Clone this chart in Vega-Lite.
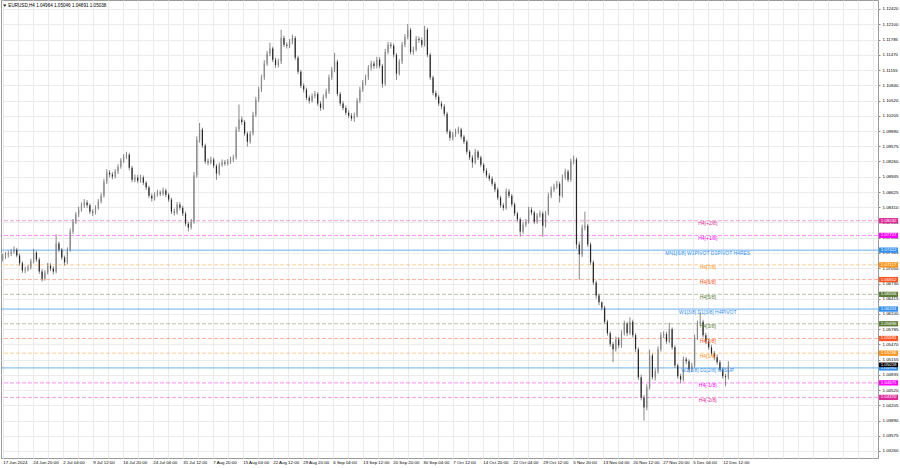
{
  "$schema": "https://vega.github.io/schema/vega-lite/v6.json",
  "width": 877,
  "height": 458,
  "autosize": {"type": "none"},
  "padding": {"left": 1, "top": 0, "right": 22, "bottom": 10},
  "background": "white",
  "title": {"text": "▼  EURUSD,H4  1.04964 1.05046 1.04891 1.05038", "anchor": "start", "offset": -8, "fontSize": 4.6, "fontWeight": "normal", "font": "Liberation Sans", "color": "#000", "dx": 2},
  "config": {
    "view": {"stroke": "#9a9a9a", "strokeWidth": 1},
    "font": "Liberation Sans"
  },
  "datasets": {
    "candles": [
      {"t":3,"o":1.0725,"h":1.0735,"l":1.0719,"c":1.0729},
      {"t":6,"o":1.0729,"h":1.0738,"l":1.0724,"c":1.0733},
      {"t":9,"o":1.0733,"h":1.0741,"l":1.0727,"c":1.0735},
      {"t":12,"o":1.0735,"h":1.0744,"l":1.0730,"c":1.0739},
      {"t":15,"o":1.0739,"h":1.0750,"l":1.0735,"c":1.0743},
      {"t":18,"o":1.0743,"h":1.0747,"l":1.0727,"c":1.0731},
      {"t":21,"o":1.0731,"h":1.0735,"l":1.0710,"c":1.0715},
      {"t":24,"o":1.0715,"h":1.0719,"l":1.0695,"c":1.0700},
      {"t":27,"o":1.0700,"h":1.0708,"l":1.0694,"c":1.0702},
      {"t":30,"o":1.0702,"h":1.0712,"l":1.0698,"c":1.0706},
      {"t":33,"o":1.0706,"h":1.0724,"l":1.0702,"c":1.0719},
      {"t":36,"o":1.0719,"h":1.0745,"l":1.0715,"c":1.0737},
      {"t":39,"o":1.0737,"h":1.0741,"l":1.0718,"c":1.0723},
      {"t":42,"o":1.0723,"h":1.0727,"l":1.0693,"c":1.0698},
      {"t":45,"o":1.0698,"h":1.0703,"l":1.0677,"c":1.0683},
      {"t":48,"o":1.0683,"h":1.0701,"l":1.0679,"c":1.0696},
      {"t":51,"o":1.0696,"h":1.0716,"l":1.0692,"c":1.0710},
      {"t":54,"o":1.0710,"h":1.0715,"l":1.0699,"c":1.0704},
      {"t":57,"o":1.0704,"h":1.0709,"l":1.0692,"c":1.0698},
      {"t":60,"o":1.0698,"h":1.0775,"l":1.0694,"c":1.0756},
      {"t":63,"o":1.0756,"h":1.0760,"l":1.0738,"c":1.0743},
      {"t":66,"o":1.0743,"h":1.0747,"l":1.0722,"c":1.0727},
      {"t":69,"o":1.0727,"h":1.0731,"l":1.0710,"c":1.0717},
      {"t":72,"o":1.0717,"h":1.0748,"l":1.0713,"c":1.0743},
      {"t":75,"o":1.0743,"h":1.0787,"l":1.0739,"c":1.0781},
      {"t":78,"o":1.0781,"h":1.0807,"l":1.0776,"c":1.0801},
      {"t":81,"o":1.0801,"h":1.0821,"l":1.0796,"c":1.0816},
      {"t":84,"o":1.0816,"h":1.0832,"l":1.0811,"c":1.0826},
      {"t":87,"o":1.0826,"h":1.0841,"l":1.0822,"c":1.0835},
      {"t":90,"o":1.0835,"h":1.0848,"l":1.0830,"c":1.0841},
      {"t":93,"o":1.0841,"h":1.0846,"l":1.0830,"c":1.0835},
      {"t":96,"o":1.0835,"h":1.0839,"l":1.0817,"c":1.0822},
      {"t":99,"o":1.0822,"h":1.0827,"l":1.0813,"c":1.0820},
      {"t":102,"o":1.0820,"h":1.0835,"l":1.0816,"c":1.0830},
      {"t":105,"o":1.0830,"h":1.0848,"l":1.0826,"c":1.0843},
      {"t":108,"o":1.0843,"h":1.0861,"l":1.0839,"c":1.0855},
      {"t":111,"o":1.0855,"h":1.0890,"l":1.0851,"c":1.0884},
      {"t":114,"o":1.0884,"h":1.0910,"l":1.0879,"c":1.0903},
      {"t":117,"o":1.0903,"h":1.0908,"l":1.0893,"c":1.0899},
      {"t":120,"o":1.0899,"h":1.0904,"l":1.0889,"c":1.0895},
      {"t":123,"o":1.0895,"h":1.0910,"l":1.0891,"c":1.0905},
      {"t":126,"o":1.0905,"h":1.0920,"l":1.0900,"c":1.0915},
      {"t":129,"o":1.0915,"h":1.0933,"l":1.0911,"c":1.0928},
      {"t":132,"o":1.0928,"h":1.0941,"l":1.0923,"c":1.0936},
      {"t":135,"o":1.0936,"h":1.0946,"l":1.0931,"c":1.0940},
      {"t":138,"o":1.0940,"h":1.0944,"l":1.0908,"c":1.0913},
      {"t":141,"o":1.0913,"h":1.0917,"l":1.0883,"c":1.0888},
      {"t":144,"o":1.0888,"h":1.0899,"l":1.0883,"c":1.0893},
      {"t":147,"o":1.0893,"h":1.0898,"l":1.0881,"c":1.0886},
      {"t":150,"o":1.0886,"h":1.0899,"l":1.0882,"c":1.0893},
      {"t":153,"o":1.0893,"h":1.0897,"l":1.0877,"c":1.0882},
      {"t":156,"o":1.0882,"h":1.0886,"l":1.0867,"c":1.0872},
      {"t":159,"o":1.0872,"h":1.0876,"l":1.0850,"c":1.0855},
      {"t":162,"o":1.0855,"h":1.0860,"l":1.0843,"c":1.0849},
      {"t":165,"o":1.0849,"h":1.0862,"l":1.0845,"c":1.0857},
      {"t":168,"o":1.0857,"h":1.0867,"l":1.0853,"c":1.0861},
      {"t":171,"o":1.0861,"h":1.0866,"l":1.0854,"c":1.0859},
      {"t":174,"o":1.0859,"h":1.0872,"l":1.0855,"c":1.0866},
      {"t":177,"o":1.0866,"h":1.0870,"l":1.0852,"c":1.0857},
      {"t":180,"o":1.0857,"h":1.0861,"l":1.0842,"c":1.0847},
      {"t":183,"o":1.0847,"h":1.0851,"l":1.0817,"c":1.0822},
      {"t":186,"o":1.0822,"h":1.0828,"l":1.0814,"c":1.0820},
      {"t":189,"o":1.0820,"h":1.0842,"l":1.0816,"c":1.0837},
      {"t":192,"o":1.0837,"h":1.0842,"l":1.0825,"c":1.0830},
      {"t":195,"o":1.0830,"h":1.0834,"l":1.0813,"c":1.0818},
      {"t":198,"o":1.0818,"h":1.0822,"l":1.0792,"c":1.0797},
      {"t":201,"o":1.0797,"h":1.0801,"l":1.0781,"c":1.0789},
      {"t":204,"o":1.0789,"h":1.0807,"l":1.0785,"c":1.0801},
      {"t":207,"o":1.0801,"h":1.0904,"l":1.0797,"c":1.0897},
      {"t":210,"o":1.0897,"h":1.0978,"l":1.0892,"c":1.0971},
      {"t":213,"o":1.0971,"h":1.1006,"l":1.0965,"c":1.0992},
      {"t":216,"o":1.0992,"h":1.0996,"l":1.0954,"c":1.0959},
      {"t":219,"o":1.0959,"h":1.0963,"l":1.0921,"c":1.0926},
      {"t":222,"o":1.0926,"h":1.0932,"l":1.0918,"c":1.0924},
      {"t":225,"o":1.0924,"h":1.0936,"l":1.0920,"c":1.0930},
      {"t":228,"o":1.0930,"h":1.0934,"l":1.0912,"c":1.0917},
      {"t":231,"o":1.0917,"h":1.0921,"l":1.0888,"c":1.0901},
      {"t":234,"o":1.0901,"h":1.0924,"l":1.0897,"c":1.0919},
      {"t":237,"o":1.0919,"h":1.0930,"l":1.0915,"c":1.0924},
      {"t":240,"o":1.0924,"h":1.0929,"l":1.0917,"c":1.0922},
      {"t":243,"o":1.0922,"h":1.0931,"l":1.0918,"c":1.0926},
      {"t":246,"o":1.0926,"h":1.0936,"l":1.0921,"c":1.0930},
      {"t":249,"o":1.0930,"h":1.0940,"l":1.0925,"c":1.0934},
      {"t":252,"o":1.0934,"h":1.0998,"l":1.0930,"c":1.0992},
      {"t":255,"o":1.0992,"h":1.1044,"l":1.0987,"c":1.1013},
      {"t":258,"o":1.1013,"h":1.1019,"l":1.1002,"c":1.1008},
      {"t":261,"o":1.1008,"h":1.1012,"l":1.0979,"c":1.0984},
      {"t":264,"o":1.0984,"h":1.0988,"l":1.0957,"c":1.0967},
      {"t":267,"o":1.0967,"h":1.0989,"l":1.0963,"c":1.0984},
      {"t":270,"o":1.0984,"h":1.1029,"l":1.0980,"c":1.1023},
      {"t":273,"o":1.1023,"h":1.1060,"l":1.1018,"c":1.1054},
      {"t":276,"o":1.1054,"h":1.1081,"l":1.1049,"c":1.1075},
      {"t":279,"o":1.1075,"h":1.1106,"l":1.1070,"c":1.1100},
      {"t":282,"o":1.1100,"h":1.1136,"l":1.1095,"c":1.1129},
      {"t":285,"o":1.1129,"h":1.1155,"l":1.1124,"c":1.1149},
      {"t":288,"o":1.1149,"h":1.1172,"l":1.1144,"c":1.1160},
      {"t":291,"o":1.1160,"h":1.1164,"l":1.1132,"c":1.1137},
      {"t":294,"o":1.1137,"h":1.1141,"l":1.1120,"c":1.1126},
      {"t":297,"o":1.1126,"h":1.1139,"l":1.1121,"c":1.1133},
      {"t":300,"o":1.1133,"h":1.1199,"l":1.1128,"c":1.1182},
      {"t":303,"o":1.1182,"h":1.1187,"l":1.1163,"c":1.1168},
      {"t":306,"o":1.1168,"h":1.1173,"l":1.1160,"c":1.1166},
      {"t":309,"o":1.1166,"h":1.1180,"l":1.1161,"c":1.1174},
      {"t":312,"o":1.1174,"h":1.1189,"l":1.1169,"c":1.1182},
      {"t":315,"o":1.1182,"h":1.1186,"l":1.1136,"c":1.1141},
      {"t":318,"o":1.1141,"h":1.1145,"l":1.1107,"c":1.1112},
      {"t":321,"o":1.1112,"h":1.1116,"l":1.1078,"c":1.1083},
      {"t":324,"o":1.1083,"h":1.1088,"l":1.1069,"c":1.1075},
      {"t":327,"o":1.1075,"h":1.1079,"l":1.1053,"c":1.1058},
      {"t":330,"o":1.1058,"h":1.1063,"l":1.1046,"c":1.1052},
      {"t":333,"o":1.1052,"h":1.1067,"l":1.1048,"c":1.1062},
      {"t":336,"o":1.1062,"h":1.1072,"l":1.1057,"c":1.1066},
      {"t":339,"o":1.1066,"h":1.1070,"l":1.1041,"c":1.1046},
      {"t":342,"o":1.1046,"h":1.1051,"l":1.1031,"c":1.1037},
      {"t":345,"o":1.1037,"h":1.1065,"l":1.1033,"c":1.1060},
      {"t":348,"o":1.1060,"h":1.1077,"l":1.1056,"c":1.1071},
      {"t":351,"o":1.1071,"h":1.1106,"l":1.1066,"c":1.1100},
      {"t":354,"o":1.1100,"h":1.1122,"l":1.1095,"c":1.1116},
      {"t":357,"o":1.1116,"h":1.1151,"l":1.1111,"c":1.1133},
      {"t":360,"o":1.1133,"h":1.1137,"l":1.1061,"c":1.1066},
      {"t":363,"o":1.1066,"h":1.1070,"l":1.1041,"c":1.1046},
      {"t":366,"o":1.1046,"h":1.1051,"l":1.1032,"c":1.1037},
      {"t":369,"o":1.1037,"h":1.1042,"l":1.1022,"c":1.1027},
      {"t":372,"o":1.1027,"h":1.1032,"l":1.1016,"c":1.1021},
      {"t":375,"o":1.1021,"h":1.1026,"l":1.1010,"c":1.1015},
      {"t":378,"o":1.1015,"h":1.1027,"l":1.1008,"c":1.1021},
      {"t":381,"o":1.1021,"h":1.1057,"l":1.1017,"c":1.1052},
      {"t":384,"o":1.1052,"h":1.1081,"l":1.1047,"c":1.1075},
      {"t":387,"o":1.1075,"h":1.1095,"l":1.1070,"c":1.1089},
      {"t":390,"o":1.1089,"h":1.1106,"l":1.1084,"c":1.1100},
      {"t":393,"o":1.1100,"h":1.1126,"l":1.1095,"c":1.1120},
      {"t":396,"o":1.1120,"h":1.1135,"l":1.1115,"c":1.1129},
      {"t":399,"o":1.1129,"h":1.1134,"l":1.1118,"c":1.1124},
      {"t":402,"o":1.1124,"h":1.1143,"l":1.1119,"c":1.1137},
      {"t":405,"o":1.1137,"h":1.1142,"l":1.1119,"c":1.1124},
      {"t":408,"o":1.1124,"h":1.1128,"l":1.1079,"c":1.1087},
      {"t":411,"o":1.1087,"h":1.1159,"l":1.1083,"c":1.1153},
      {"t":414,"o":1.1153,"h":1.1174,"l":1.1148,"c":1.1168},
      {"t":417,"o":1.1168,"h":1.1173,"l":1.1160,"c":1.1166},
      {"t":420,"o":1.1166,"h":1.1170,"l":1.1142,"c":1.1147},
      {"t":423,"o":1.1147,"h":1.1151,"l":1.1095,"c":1.1108},
      {"t":426,"o":1.1108,"h":1.1138,"l":1.1104,"c":1.1133},
      {"t":429,"o":1.1133,"h":1.1174,"l":1.1128,"c":1.1168},
      {"t":432,"o":1.1168,"h":1.1190,"l":1.1163,"c":1.1184},
      {"t":435,"o":1.1184,"h":1.1211,"l":1.1179,"c":1.1199},
      {"t":438,"o":1.1199,"h":1.1203,"l":1.1148,"c":1.1153},
      {"t":441,"o":1.1153,"h":1.1164,"l":1.1147,"c":1.1158},
      {"t":444,"o":1.1158,"h":1.1186,"l":1.1154,"c":1.1180},
      {"t":447,"o":1.1180,"h":1.1185,"l":1.1172,"c":1.1178},
      {"t":450,"o":1.1178,"h":1.1183,"l":1.1162,"c":1.1168},
      {"t":453,"o":1.1168,"h":1.1207,"l":1.1164,"c":1.1199},
      {"t":456,"o":1.1199,"h":1.1203,"l":1.1142,"c":1.1147},
      {"t":459,"o":1.1147,"h":1.1151,"l":1.1095,"c":1.1100},
      {"t":462,"o":1.1100,"h":1.1104,"l":1.1063,"c":1.1068},
      {"t":465,"o":1.1068,"h":1.1073,"l":1.1054,"c":1.1060},
      {"t":468,"o":1.1060,"h":1.1064,"l":1.1041,"c":1.1046},
      {"t":471,"o":1.1046,"h":1.1051,"l":1.1034,"c":1.1040},
      {"t":474,"o":1.1040,"h":1.1045,"l":1.1020,"c":1.1025},
      {"t":477,"o":1.1025,"h":1.1029,"l":1.0983,"c":1.0988},
      {"t":480,"o":1.0988,"h":1.0992,"l":1.0969,"c":1.0975},
      {"t":483,"o":1.0975,"h":1.0987,"l":1.0970,"c":1.0982},
      {"t":486,"o":1.0982,"h":1.0994,"l":1.0977,"c":1.0988},
      {"t":489,"o":1.0988,"h":1.0998,"l":1.0983,"c":1.0992},
      {"t":492,"o":1.0992,"h":1.0996,"l":1.0972,"c":1.0977},
      {"t":495,"o":1.0977,"h":1.0981,"l":1.0962,"c":1.0967},
      {"t":498,"o":1.0967,"h":1.0971,"l":1.0941,"c":1.0946},
      {"t":501,"o":1.0946,"h":1.0950,"l":1.0929,"c":1.0934},
      {"t":504,"o":1.0934,"h":1.0939,"l":1.0913,"c":1.0924},
      {"t":507,"o":1.0924,"h":1.0952,"l":1.0920,"c":1.0946},
      {"t":510,"o":1.0946,"h":1.0950,"l":1.0929,"c":1.0934},
      {"t":513,"o":1.0934,"h":1.0938,"l":1.0914,"c":1.0919},
      {"t":516,"o":1.0919,"h":1.0923,"l":1.0902,"c":1.0907},
      {"t":519,"o":1.0907,"h":1.0912,"l":1.0892,"c":1.0897},
      {"t":522,"o":1.0897,"h":1.0902,"l":1.0885,"c":1.0890},
      {"t":525,"o":1.0890,"h":1.0895,"l":1.0875,"c":1.0880},
      {"t":528,"o":1.0880,"h":1.0884,"l":1.0863,"c":1.0868},
      {"t":531,"o":1.0868,"h":1.0872,"l":1.0846,"c":1.0851},
      {"t":534,"o":1.0851,"h":1.0855,"l":1.0830,"c":1.0835},
      {"t":537,"o":1.0835,"h":1.0840,"l":1.0824,"c":1.0830},
      {"t":540,"o":1.0830,"h":1.0870,"l":1.0826,"c":1.0864},
      {"t":543,"o":1.0864,"h":1.0869,"l":1.0850,"c":1.0855},
      {"t":546,"o":1.0855,"h":1.0859,"l":1.0832,"c":1.0837},
      {"t":549,"o":1.0837,"h":1.0841,"l":1.0813,"c":1.0818},
      {"t":552,"o":1.0818,"h":1.0822,"l":1.0801,"c":1.0806},
      {"t":555,"o":1.0806,"h":1.0810,"l":1.0770,"c":1.0781},
      {"t":558,"o":1.0781,"h":1.0800,"l":1.0776,"c":1.0795},
      {"t":561,"o":1.0795,"h":1.0807,"l":1.0790,"c":1.0801},
      {"t":564,"o":1.0801,"h":1.0832,"l":1.0797,"c":1.0826},
      {"t":567,"o":1.0826,"h":1.0831,"l":1.0815,"c":1.0820},
      {"t":570,"o":1.0820,"h":1.0824,"l":1.0796,"c":1.0801},
      {"t":573,"o":1.0801,"h":1.0819,"l":1.0797,"c":1.0814},
      {"t":576,"o":1.0814,"h":1.0824,"l":1.0809,"c":1.0818},
      {"t":579,"o":1.0818,"h":1.0822,"l":1.0770,"c":1.0793},
      {"t":582,"o":1.0793,"h":1.0823,"l":1.0789,"c":1.0818},
      {"t":585,"o":1.0818,"h":1.0861,"l":1.0814,"c":1.0855},
      {"t":588,"o":1.0855,"h":1.0874,"l":1.0850,"c":1.0868},
      {"t":591,"o":1.0868,"h":1.0880,"l":1.0863,"c":1.0874},
      {"t":594,"o":1.0874,"h":1.0886,"l":1.0869,"c":1.0880},
      {"t":597,"o":1.0880,"h":1.0884,"l":1.0841,"c":1.0855},
      {"t":600,"o":1.0855,"h":1.0899,"l":1.0851,"c":1.0893},
      {"t":603,"o":1.0893,"h":1.0911,"l":1.0888,"c":1.0905},
      {"t":606,"o":1.0905,"h":1.0909,"l":1.0883,"c":1.0888},
      {"t":609,"o":1.0888,"h":1.0932,"l":1.0884,"c":1.0926},
      {"t":612,"o":1.0926,"h":1.0938,"l":1.0920,"c":1.0930},
      {"t":615,"o":1.0930,"h":1.0934,"l":1.0745,"c":1.0754},
      {"t":618,"o":1.0754,"h":1.0760,"l":1.0681,"c":1.0733},
      {"t":621,"o":1.0733,"h":1.0795,"l":1.0728,"c":1.0789},
      {"t":624,"o":1.0789,"h":1.0822,"l":1.0783,"c":1.0793},
      {"t":627,"o":1.0793,"h":1.0797,"l":1.0749,"c":1.0754},
      {"t":630,"o":1.0754,"h":1.0758,"l":1.0711,"c":1.0717},
      {"t":633,"o":1.0717,"h":1.0721,"l":1.0670,"c":1.0675},
      {"t":636,"o":1.0675,"h":1.0679,"l":1.0642,"c":1.0648},
      {"t":639,"o":1.0648,"h":1.0652,"l":1.0628,"c":1.0634},
      {"t":642,"o":1.0634,"h":1.0636,"l":1.0617,"c":1.0623},
      {"t":645,"o":1.0623,"h":1.0627,"l":1.0589,"c":1.0594},
      {"t":648,"o":1.0594,"h":1.0598,"l":1.0565,"c":1.0570},
      {"t":651,"o":1.0570,"h":1.0574,"l":1.0542,"c":1.0547},
      {"t":654,"o":1.0547,"h":1.0552,"l":1.0510,"c":1.0537},
      {"t":657,"o":1.0537,"h":1.0563,"l":1.0532,"c":1.0557},
      {"t":660,"o":1.0557,"h":1.0562,"l":1.0539,"c":1.0545},
      {"t":663,"o":1.0545,"h":1.0576,"l":1.0540,"c":1.0570},
      {"t":666,"o":1.0570,"h":1.0596,"l":1.0565,"c":1.0590},
      {"t":669,"o":1.0590,"h":1.0594,"l":1.0564,"c":1.0570},
      {"t":672,"o":1.0570,"h":1.0603,"l":1.0566,"c":1.0594},
      {"t":675,"o":1.0594,"h":1.0598,"l":1.0561,"c":1.0566},
      {"t":678,"o":1.0566,"h":1.0570,"l":1.0531,"c":1.0537},
      {"t":681,"o":1.0537,"h":1.0541,"l":1.0473,"c":1.0479},
      {"t":684,"o":1.0479,"h":1.0484,"l":1.0431,"c":1.0437},
      {"t":687,"o":1.0437,"h":1.0442,"l":1.0389,"c":1.0416},
      {"t":690,"o":1.0416,"h":1.0464,"l":1.0410,"c":1.0458},
      {"t":693,"o":1.0458,"h":1.0536,"l":1.0453,"c":1.0524},
      {"t":696,"o":1.0524,"h":1.0528,"l":1.0474,"c":1.0479},
      {"t":699,"o":1.0479,"h":1.0497,"l":1.0472,"c":1.0491},
      {"t":702,"o":1.0491,"h":1.0543,"l":1.0486,"c":1.0537},
      {"t":705,"o":1.0537,"h":1.0572,"l":1.0532,"c":1.0566},
      {"t":708,"o":1.0566,"h":1.0574,"l":1.0560,"c":1.0568},
      {"t":711,"o":1.0568,"h":1.0573,"l":1.0548,"c":1.0553},
      {"t":714,"o":1.0553,"h":1.0592,"l":1.0549,"c":1.0578},
      {"t":717,"o":1.0578,"h":1.0582,"l":1.0536,"c":1.0541},
      {"t":720,"o":1.0541,"h":1.0545,"l":1.0498,"c":1.0503},
      {"t":723,"o":1.0503,"h":1.0507,"l":1.0476,"c":1.0481},
      {"t":726,"o":1.0481,"h":1.0486,"l":1.0466,"c":1.0474},
      {"t":729,"o":1.0474,"h":1.0522,"l":1.0470,"c":1.0516},
      {"t":732,"o":1.0516,"h":1.0521,"l":1.0506,"c":1.0512},
      {"t":735,"o":1.0512,"h":1.0516,"l":1.0490,"c":1.0495},
      {"t":738,"o":1.0495,"h":1.0509,"l":1.0490,"c":1.0503},
      {"t":741,"o":1.0503,"h":1.0567,"l":1.0499,"c":1.0561},
      {"t":744,"o":1.0561,"h":1.0596,"l":1.0556,"c":1.0590},
      {"t":747,"o":1.0590,"h":1.0613,"l":1.0585,"c":1.0594},
      {"t":750,"o":1.0594,"h":1.0598,"l":1.0561,"c":1.0566},
      {"t":753,"o":1.0566,"h":1.0571,"l":1.0548,"c":1.0553},
      {"t":756,"o":1.0553,"h":1.0558,"l":1.0536,"c":1.0541},
      {"t":759,"o":1.0541,"h":1.0546,"l":1.0523,"c":1.0528},
      {"t":762,"o":1.0528,"h":1.0533,"l":1.0514,"c":1.0520},
      {"t":765,"o":1.0520,"h":1.0526,"l":1.0505,"c":1.0510},
      {"t":768,"o":1.0510,"h":1.0514,"l":1.0490,"c":1.0495},
      {"t":771,"o":1.0495,"h":1.0499,"l":1.0476,"c":1.0481},
      {"t":774,"o":1.0481,"h":1.0486,"l":1.0460,"c":1.0479},
      {"t":777,"o":1.0479,"h":1.0512,"l":1.0474,"c":1.0502}
    ],
    "levels": [
      {"p":1.08032,"name":"H4[+2/8]","grp":"H4 ±2/8"},
      {"p":1.07727,"name":"H4[+1/8]","grp":"H4 ±1/8"},
      {"p":1.07422,"name":"MN1[6/8] W1PIVOT D1PIVOT H4RES","grp":"pivot"},
      {"p":1.07117,"name":"H4[7/8]","grp":"H4 1/8 7/8"},
      {"p":1.06812,"name":"H4[6/8]","grp":"H4 2/8 6/8"},
      {"p":1.06506,"name":"H4[5/8]","grp":"H4 3/8 5/8"},
      {"p":1.06201,"name":"W1[3/8] D1[3/8] H4PIVOT","grp":"pivot"},
      {"p":1.05896,"name":"H4[3/8]","grp":"H4 3/8 5/8"},
      {"p":1.05591,"name":"H4[2/8]","grp":"H4 2/8 6/8"},
      {"p":1.05286,"name":"H4[1/8]","grp":"H4 1/8 7/8"},
      {"p":1.04981,"name":"W1[2/8] D1[2/8] H4SUP","grp":"pivot"},
      {"p":1.04671,"name":"H4[-1/8]","grp":"H4 ±1/8"},
      {"p":1.04370,"name":"H4[-2/8]","grp":"H4 ±2/8"}
    ],
    "bid": [{"p":1.05018}]
  },
  "layer": [
    {
      "data": {"name": "levels"},
      "mark": {"type": "rule", "strokeWidth": 1},
      "encoding": {
        "y": {"field": "p", "type": "quantitative", "title": null, "scale": {"domain": [1.03114, 1.126065], "nice": false, "zero": false},
          "axis": {"orient": "right", "values": [1.03260,1.03575,1.03890,1.04205,1.04520,1.04835,1.05155,1.05470,1.05785,1.06100,1.06415,1.06730,1.07050,1.07365,1.07680,1.07995,1.08310,1.08625,1.08945,1.09260,1.09575,1.09890,1.10205,1.10520,1.10840,1.11155,1.11470,1.11785,1.12100,1.12420],
            "tickCount": 200, "format": ".5f", "title": null, "labelFontSize": 4.4, "labelColor": "#000", "labelPadding": 2, "tickSize": 2, "tickColor": "#888", "labelOverlap": false, "labelFlush": false, "domain": false, "grid": true, "gridColor": "#ebebeb", "gridWidth": 1}},
        "color": {"field": "grp", "type": "nominal", "legend": null, "scale": {"domain": ["H4 ±2/8", "H4 ±1/8", "pivot", "H4 1/8 7/8", "H4 2/8 6/8", "H4 3/8 5/8"], "range": ["#dd2a9b", "#ff00ff", "#2f8ff0", "#ff9418", "#ff5420", "#5d7d36"]}},
        "strokeDash": {"field": "grp", "type": "nominal", "legend": null, "scale": {"domain": ["H4 ±2/8", "H4 ±1/8", "pivot", "H4 1/8 7/8", "H4 2/8 6/8", "H4 3/8 5/8"], "range": [[4, 2], [4, 2], [1, 0], [4, 2], [4, 2], [4, 2]]}},
        "opacity": {"condition": {"test": "datum.grp == 'pivot'", "value": 0.7}, "value": 0.45}
      }
    },
    {
      "data": {"name": "candles"},
      "mark": {"type": "rule", "strokeWidth": 0.7, "color": "#555555"},
      "encoding": {
        "x": {"field": "t", "type": "quantitative", "title": null, "scale": {"domain": [1.19, 936.6], "nice": false, "zero": false},
          "axis": {"orient": "bottom", "values": [3,19,35,51,67,83,99,115,131,147,163,179,195,211,227,243,259,275,291,307,323,339,355,371,387,403,419,435,451,467,483,499,515,531,547,563,579,595,611,627,643,659,675,691,707,723,739,755,771,787,803,819,835,851,867,883,899,915,931],
            "tickCount": 200,
            "labelExpr": "(datum.value - 3) % 32 == 0 && datum.value <= 771 ? ['17 Jun 2024','24 Jun 20:00','2 Jul 04:00','9 Jul 12:00','16 Jul 20:00','24 Jul 04:00','31 Jul 12:00','7 Aug 20:00','15 Aug 04:00','22 Aug 12:00','29 Aug 20:00','6 Sep 04:00','13 Sep 12:00','20 Sep 20:00','30 Sep 04:00','7 Oct 12:00','14 Oct 20:00','22 Oct 04:00','29 Oct 12:00','5 Nov 20:00','13 Nov 04:00','20 Nov 12:00','27 Nov 20:00','5 Dec 04:00','12 Dec 12:00'][(datum.value - 3) / 32] : ''",
            "title": null, "labelAlign": "left", "labelFontSize": 4.4, "labelColor": "#000", "labelPadding": 2, "labelOverlap": false, "labelFlush": false, "ticks": false, "domain": false, "grid": true, "gridColor": "#ebebeb", "gridWidth": 1}},
        "y": {"field": "l", "type": "quantitative", "title": null, "scale": {"domain": [1.03114, 1.126065], "nice": false, "zero": false}, "axis": {"orient": "right"}},
        "y2": {"field": "h"}
      }
    },
    {
      "data": {"name": "candles"},
      "mark": {"type": "rule", "strokeWidth": 1.2},
      "encoding": {
        "x": {"field": "t", "type": "quantitative", "title": null, "scale": {"domain": [1.19, 936.6], "nice": false, "zero": false}, "axis": {"orient": "bottom"}},
        "y": {"field": "o", "type": "quantitative", "title": null, "scale": {"domain": [1.03114, 1.126065], "nice": false, "zero": false}, "axis": {"orient": "right"}},
        "y2": {"field": "c"},
        "color": {"condition": {"test": "datum.c >= datum.o", "value": "#8a8a8a"}, "value": "#262626"}
      }
    },
    {
      "data": {"name": "levels"},
      "mark": {"type": "text", "fontSize": 5, "baseline": "top", "align": "center", "dy": 0.5},
      "encoding": {
        "x": {"datum": 755, "type": "quantitative", "title": null, "scale": {"domain": [1.19, 936.6], "nice": false, "zero": false}, "axis": {"orient": "bottom"}},
        "y": {"field": "p", "type": "quantitative", "title": null, "scale": {"domain": [1.03114, 1.126065], "nice": false, "zero": false}, "axis": {"orient": "right"}},
        "text": {"field": "name"},
        "color": {"field": "grp", "type": "nominal", "legend": null}
      }
    },
    {
      "data": {"name": "levels"},
      "mark": {"type": "rule", "strokeWidth": 5.3, "strokeCap": "butt", "clip": false},
      "encoding": {
        "x": {"datum": 937.7, "type": "quantitative", "title": null, "scale": {"domain": [1.19, 936.6], "nice": false, "zero": false}, "axis": {"orient": "bottom"}},
        "x2": {"datum": 958},
        "y": {"field": "p", "type": "quantitative", "title": null, "scale": {"domain": [1.03114, 1.126065], "nice": false, "zero": false}, "axis": {"orient": "right"}},
        "yOffset": {"condition": {"test": "datum.p == 1.04981", "value": 2.6}, "value": 0},
        "color": {"field": "grp", "type": "nominal", "legend": null}
      }
    },
    {
      "data": {"name": "levels"},
      "mark": {"type": "text", "fontSize": 4.4, "color": "white", "align": "center", "baseline": "middle", "clip": false},
      "encoding": {
        "x": {"datum": 947.9, "type": "quantitative", "title": null, "scale": {"domain": [1.19, 936.6], "nice": false, "zero": false}, "axis": {"orient": "bottom"}},
        "y": {"field": "p", "type": "quantitative", "title": null, "scale": {"domain": [1.03114, 1.126065], "nice": false, "zero": false}, "axis": {"orient": "right"}},
        "yOffset": {"condition": {"test": "datum.p == 1.04981", "value": 2.6}, "value": 0},
        "text": {"field": "p", "type": "quantitative", "format": ".5f"}
      }
    },
    {
      "data": {"name": "bid"},
      "mark": {"type": "rule", "strokeWidth": 4.6, "strokeCap": "butt", "clip": false, "color": "#000"},
      "encoding": {
        "x": {"datum": 937.7, "type": "quantitative", "title": null, "scale": {"domain": [1.19, 936.6], "nice": false, "zero": false}, "axis": {"orient": "bottom"}},
        "x2": {"datum": 958},
        "y": {"field": "p", "type": "quantitative", "title": null, "scale": {"domain": [1.03114, 1.126065], "nice": false, "zero": false}, "axis": {"orient": "right"}},
        "yOffset": {"value": -1.3}
      }
    },
    {
      "data": {"name": "bid"},
      "mark": {"type": "text", "fontSize": 4.4, "color": "white", "align": "center", "baseline": "middle", "clip": false},
      "encoding": {
        "x": {"datum": 947.9, "type": "quantitative", "title": null, "scale": {"domain": [1.19, 936.6], "nice": false, "zero": false}, "axis": {"orient": "bottom"}},
        "y": {"field": "p", "type": "quantitative", "title": null, "scale": {"domain": [1.03114, 1.126065], "nice": false, "zero": false}, "axis": {"orient": "right"}},
        "yOffset": {"value": -1.3},
        "text": {"field": "p", "type": "quantitative", "format": ".5f"}
      }
    }
  ]
}
